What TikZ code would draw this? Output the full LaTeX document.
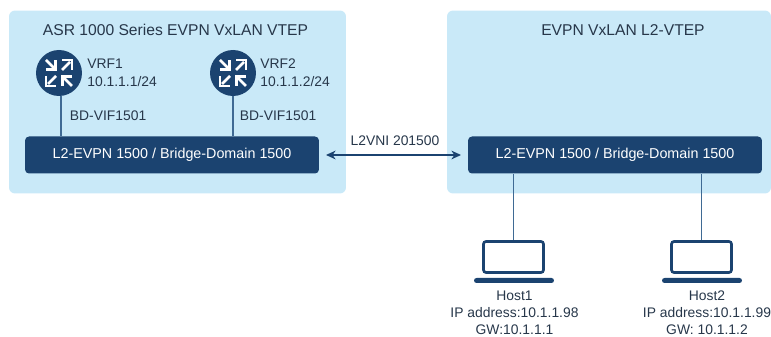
\documentclass[tikz,border=0pt]{standalone}
\usepackage{fontspec}
\setmainfont{Liberation Sans}
\usetikzlibrary{arrows.meta}
\definecolor{panelc}{HTML}{C9E9F8}
\definecolor{darkc}{HTML}{1B4370}
\definecolor{linec}{HTML}{3F6A94}
\definecolor{textc}{HTML}{27374A}
\tikzset{
  x=0.02cm,y=-0.02cm,
  panel/.style={fill=panelc,draw=none,rounded corners=0.12cm,inner sep=0},
  bar/.style={fill=darkc,draw=none,rounded corners=0.08cm,minimum width=5.88cm,minimum height=0.74cm,inner sep=0,text=white,font=\fontsize{8.15pt}{9.5pt}\selectfont},
  router/.style={circle,fill=darkc,draw=none,minimum size=0.92cm,inner sep=0},
  lbl/.style={text=textc,font=\fontsize{7.9pt}{9.6pt}\selectfont,inner sep=0},
  title/.style={text=textc,font=\fontsize{8.9pt}{10pt}\selectfont,inner sep=0},
  hostlbl/.style={lbl,align=center,font=\fontsize{7.9pt}{9.6pt}\selectfont},
  link/.style={draw=linec,line width=0.85pt},
  screen/.style={draw=darkc,line width=1.5pt,rounded corners=0.05cm,minimum width=1.2cm,minimum height=0.62cm,inner sep=0,fill=white},
  base/.style={fill=darkc,draw=none,rounded corners=0.05cm,minimum width=1.6cm,minimum height=0.1cm,inner sep=0},
  ic/.style={draw=white,line width=1.6pt,line cap=butt},
}
\newcommand{\routerarrows}[1]{%
  \begin{scope}[shift={(#1)}]
    % top-left: inward
    \draw[ic] (-13,-13) -- (-5,-5);
    \draw[ic] (-13,-3.2) -- (-3.2,-3.2) -- (-3.2,-13);
    % bottom-right: inward
    \draw[ic] (13,13) -- (5,5);
    \draw[ic] (13,3.2) -- (3.2,3.2) -- (3.2,13);
    % top-right: outward
    \draw[ic] (3,-3) -- (11,-11);
    \draw[ic] (3.2,-13) -- (13,-13) -- (13,-3.2);
    % bottom-left: outward
    \draw[ic] (-3,3) -- (-11,11);
    \draw[ic] (-3.2,13) -- (-13,13) -- (-13,3.2);
  \end{scope}}
\begin{document}
\begin{tikzpicture}
\useasboundingbox (0,0) rectangle (771,337);
\node[panel,minimum width=6.74cm,minimum height=3.66cm] (pl) at (177.5,102) {};
\node[panel,minimum width=6.48cm,minimum height=3.66cm] (pr) at (609,102) {};
\node[title] (tl) at (175.5,30) {ASR 1000 Series EVPN VxLAN VTEP};
\node[title] (tr) at (623,30) {EVPN VxLAN L2-VTEP};
\node[bar] (bl) at (172,155) {L2-EVPN 1500 / Bridge-Domain 1500};
\node[bar] (br) at (615,155) {L2-EVPN 1500 / Bridge-Domain 1500};
\node[router] (r1) at (59,73) {};
\node[router] (r2) at (233,73) {};
\routerarrows{59,73}
\routerarrows{233,73}
\draw[link] (r1.south) ++(2,0) coordinate (r1s) -- (r1s |- bl.north);
\draw[link] (r2.south) -- (r2.south |- bl.north);
\node[lbl,anchor=west,align=left] (v1) at (87,73) {VRF1\\[0.7pt]10.1.1.1/24};
\node[lbl,anchor=west,align=left] (v2) at (260,73) {VRF2\\[0.7pt]10.1.1.2/24};
\node[lbl,anchor=west] (b1) at (69.5,116) {BD-VIF1501};
\node[lbl,anchor=west] (b2) at (239.5,116) {BD-VIF1501};
\coordinate (al) at (326,155);
\coordinate (ar) at (461,155);
\draw[draw=darkc,line width=0.65pt,{Stealth[length=5.5pt,width=5pt]}-{Stealth[length=5.5pt,width=5pt]}] (al) -- (ar);
\node[lbl] (vni) at (395,141) {L2VNI 201500};
\node[screen] (s1) at (513.5,257) {};
\node[screen] (s2) at (701.5,257) {};
\node[base] (b1a) at (514,280.5) {};
\node[base] (b2a) at (702,280.5) {};
\draw[link] (br.south -| s1.north) -- (s1.north);
\draw[link] (br.south -| s2.north) -- (s2.north);
\node[hostlbl] (h1) at (514.5,313) {Host1\\IP address:10.1.1.98\\GW:10.1.1.1};
\node[hostlbl] (h2) at (707,313) {Host2\\IP address:10.1.1.99\\GW: 10.1.1.2};
\end{tikzpicture}
\end{document}
